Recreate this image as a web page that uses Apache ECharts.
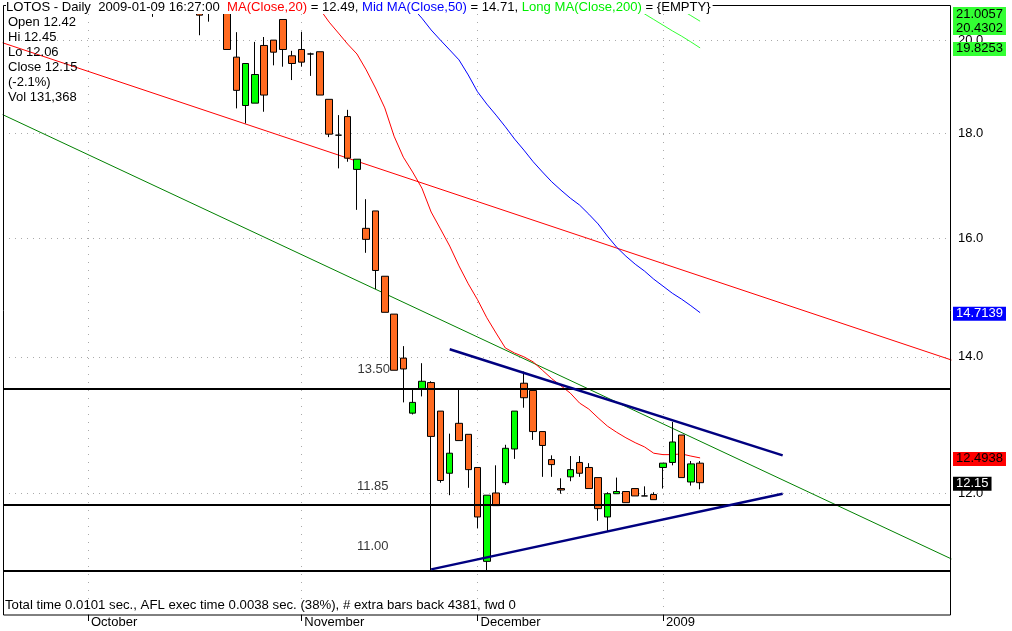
<!DOCTYPE html>
<html><head><meta charset="utf-8">
<script src="https://cdn.jsdelivr.net/npm/echarts@6/dist/echarts.min.js"></script>
<style>html,body{margin:0;padding:0;background:#fff}#c{width:1012px;height:631px}</style>
</head><body><div id="c"></div><script>
// ---------- DATA ----------
const dates = [
'2008-10-01','2008-10-02','2008-10-03','2008-10-06','2008-10-07','2008-10-08','2008-10-09','2008-10-10','2008-10-13','2008-10-14','2008-10-15','2008-10-16','2008-10-17','2008-10-20','2008-10-21','2008-10-22','2008-10-23','2008-10-24','2008-10-27','2008-10-28','2008-10-29','2008-10-30','2008-10-31',
'2008-11-03','2008-11-04','2008-11-05','2008-11-06','2008-11-07','2008-11-10','2008-11-12','2008-11-13','2008-11-14','2008-11-17','2008-11-18','2008-11-19','2008-11-20','2008-11-21','2008-11-24','2008-11-25','2008-11-26','2008-11-27','2008-11-28',
'2008-12-01','2008-12-02','2008-12-03','2008-12-04','2008-12-05','2008-12-08','2008-12-09','2008-12-10','2008-12-11','2008-12-12','2008-12-15','2008-12-16','2008-12-17','2008-12-18','2008-12-19','2008-12-22','2008-12-23','2008-12-29','2008-12-30','2008-12-31',
'2009-01-05','2009-01-06','2009-01-07','2009-01-08','2009-01-09'];
const N = null;
const openP  = [N,N,N,N,N,N,N,21.20,N,N,N,N,21.30,21.10,N,20.90,19.62,18.58,18.63,19.88,20.00,20.47,19.65,19.79,19.69,19.74,18.71,17.97,18.35,17.29,16.18,16.50,15.33,14.69,13.98,13.14,13.50,13.60,13.17,12.28,12.99,12.83,12.36,11.12,12.01,12.15,12.62,13.59,13.48,12.87,12.47,12.07,12.23,12.43,12.36,12.22,11.69,12.00,12.03,12.07,11.97,11.99,12.36,12.43,12.82,12.16,12.42];
const closeP = [N,N,N,N,N,N,N,20.90,N,N,N,N,20.57,20.85,N,19.79,18.90,19.48,19.24,18.80,19.73,19.79,19.48,19.51,19.69,18.80,17.99,17.97,17.51,17.49,15.98,15.43,14.72,13.79,13.81,13.30,13.62,12.80,12.18,12.56,12.74,12.33,11.69,11.98,11.84,12.63,13.17,13.37,12.87,12.67,12.40,12.05,12.33,12.28,12.07,11.80,12.00,12.03,11.88,11.97,11.97,11.92,12.42,12.72,12.22,12.41,12.15];
const lowP   = [N,N,N,N,N,N,N,20.53,N,N,N,N,20.11,20.42,N,19.79,18.52,18.21,18.63,18.45,19.44,19.41,19.12,19.41,19.21,18.80,17.93,17.31,17.44,16.52,15.74,15.11,14.72,13.79,13.30,13.12,13.39,11.01,12.15,11.98,12.74,12.08,11.54,10.99,11.84,12.12,12.48,13.22,12.75,12.23,12.23,12.00,12.17,12.23,12.07,11.64,11.50,12.00,11.88,11.97,11.97,11.92,12.07,12.39,12.22,12.11,12.06];
const highP  = [N,N,N,N,N,N,N,21.40,N,N,N,N,21.50,21.30,N,21.00,20.18,19.48,19.96,20.07,20.00,20.47,19.76,20.19,19.72,19.74,18.71,18.38,18.49,17.49,16.72,16.50,15.33,14.69,14.17,13.51,13.90,13.62,13.17,12.84,13.51,12.83,12.36,11.98,12.39,12.68,13.17,13.77,13.48,12.87,12.53,12.21,12.52,12.52,12.42,12.22,12.02,12.22,12.03,12.07,12.10,12.02,12.42,13.01,12.82,12.45,12.45];
const volumeLast = '131,368';
const ma20 = [N,N,N,N,N,N,N,N,N,N,N,N,N,N,N,N,N,N,N,N,N,N,N,N,N,
  20.71,20.41,20.16,19.91,19.69,19.34,18.95,18.53,17.95,17.53,17.24,16.93,16.48,16.17,15.86,15.51,15.20,14.93,14.63,14.38,14.14,14.06,14.00,13.92,13.79,13.66,13.55,13.44,13.29,13.20,13.07,12.95,12.86,12.78,12.71,12.65,12.56,12.54,12.54,12.55,12.52,12.4938];
const ma50 = [N,N,N,N,N,N,N,N,N,N,N,N,N,N,N,N,N,N,N,N,N,N,N,N,N,N,N,N,N,N,N,N,N,N,N,
  20.74,20.50,20.23,20.00,19.78,19.56,19.23,18.87,18.61,18.38,18.14,17.89,17.67,17.44,17.24,17.05,16.89,16.74,16.61,16.44,16.26,16.04,15.84,15.68,15.54,15.42,15.28,15.16,15.04,14.94,14.83,14.7139];
const greenA = {start: 59, values: [20.74,20.60,20.47,20.34,20.21,20.09,19.96,19.8253]};
const greenB = {start: 64, values: [20.69,20.56,20.4302]};
const greenC = {start: 66, values: [21.0057]};
// trend lines: [barIndex, price] end points
const redTrend   = [[-9.2, 19.94], [93.1, 13.95]];
const greenTrend = [[-9.2, 18.39], [93.1, 11.15]];
const triUpper   = [[39.0, 14.12], [74.9, 12.53]];
const triLower   = [[37.0, 11.02], [74.9, 12.00]];
const levels = [13.50, 11.85, 11.00];
const priceTicks = [12, 14, 16, 18, 20];
const monthNames = ['January','February','March','April','May','June','July','August','September','October','November','December'];

// ---------- BUILD ----------
const FONT = '"Liberation Sans", Arial, sans-serif';
const FS = 13;
const X_MIN = -9.164, X_MAX = 93.05, Y_MIN = 10.468, Y_MAX = 20.597;

const candles = [];
dates.forEach((d, i) => { if (openP[i] != null) candles.push([i, openP[i], closeP[i], lowP[i], highP[i]]); });
const toXY = arr => arr.map((v, i) => v == null ? null : [i, v]).filter(p => p);
const seg = s => s.values.map((v, j) => [s.start + j, v]);

const monthStarts = [], monthLabels = [];
dates.forEach((d, i) => {
  const m = +d.slice(5, 7);
  if (i === 0 || +dates[i - 1].slice(5, 7) !== m) {
    monthStarts.push(i);
    monthLabels.push(m === 1 ? d.slice(0, 4) : monthNames[m - 1]);
  }
});

const last = dates.length - 1;
const pct = (closeP[last] / closeP[last - 1] - 1) * 100;

const lineS = (name, data, color, width) => ({
  type: 'line', name, data, symbol: 'none', silent: true, clip: true,
  lineStyle: {color, width}, z: 3, animation: false
});

const chart = echarts.init(document.getElementById('c'), null, {renderer: 'canvas'});
const TFS = 13.1;
const option = {
  animation: false,
  backgroundColor: '#fff',
  textStyle: {fontFamily: FONT},
  title: {
    left: 6, top: 0, padding: [0, 2, 0, 0], z: 20, backgroundColor: '#fff',
    text: 'LOTOS - Daily  ' + dates[last] + ' 16:27:00  {r|MA(Close,20)} = ' + ma20[last].toFixed(2) +
          ', {b|Mid MA(Close,50)} = ' + ma50[last].toFixed(2) + ', {g|Long MA(Close,200)} = {EMPTY}',
    textStyle: {fontFamily: FONT, fontSize: TFS, fontWeight: 'normal', color: '#000', lineHeight: 14,
      rich: {
        r: {color: '#ff0000', fontFamily: FONT, fontSize: TFS, lineHeight: 14},
        b: {color: '#0000ff', fontFamily: FONT, fontSize: TFS, lineHeight: 14},
        g: {color: '#00ee00', fontFamily: FONT, fontSize: TFS, lineHeight: 14}
      }}
  },
  grid: {left: 3, right: 61, top: 14, bottom: 16, containLabel: false},
  xAxis: {
    type: 'value', min: X_MIN, max: X_MAX,
    axisLine: {show: false},
    axisTick: {show: true, customValues: monthStarts, length: 6, lineStyle: {color: '#000'}},
    axisLabel: {customValues: monthStarts, formatter: v => monthLabels[monthStarts.indexOf(v)] || '',
      align: 'left', margin: 1, padding: [0, 0, 0, 3], color: '#000', fontSize: FS, fontFamily: FONT},
    splitLine: {show: true, lineStyle: {color: '#aaaaaa', type: [1, 7], width: 1}}
  },
  yAxis: {
    type: 'log', logBase: 10, position: 'right', min: Y_MIN, max: Y_MAX,
    axisLine: {show: false},
    axisTick: {show: false, customValues: priceTicks},
    axisLabel: {customValues: priceTicks, formatter: v => (+v).toFixed(1), margin: 7, color: '#000', fontSize: FS, fontFamily: FONT},
    splitLine: {show: true, lineStyle: {color: '#aaaaaa', type: [1, 5], width: 1}}
  },
  series: [
    lineS('redTrend', redTrend, '#ff0000', 1),
    lineS('greenTrend', greenTrend, '#008000', 1),
    {
      type: 'line', name: 'levels', data: [], silent: true,
      markLine: {silent: true, symbol: 'none', animation: false, label: {show: false},
        lineStyle: {color: '#000', width: 2, type: 'solid'},
        data: levels.map(v => ({yAxis: v}))}
    },
    {
      type: 'candlestick', name: 'LOTOS', data: candles, barWidth: 7, z: 4, silent: true,
      itemStyle: {color: '#00ff00', color0: '#ff6a20', borderColor: '#000', borderColor0: '#000',
        borderColorDoji: '#000', borderWidth: 1}
    },
    lineS('MA20', toXY(ma20), '#ff0000', 1),
    lineS('MA50', toXY(ma50), '#0000ff', 1),
    lineS('greenA', seg(greenA), '#33ff33', 1),
    lineS('greenB', seg(greenB), '#33ff33', 1),
    lineS('greenC', seg(greenC), '#33ff33', 1),
    Object.assign(lineS('triUpper', triUpper, '#000080', 2.5), {z: 5}),
    Object.assign(lineS('triLower', triLower, '#000080', 2.5), {z: 5}),
    {
      type: 'scatter', name: 'levelText', symbolSize: 0, silent: true, z: 6,
      data: [
        {value: [32.56, levels[0]], label: {offset: [0, -20]}},
        {value: [32.4, levels[1]], label: {offset: [0, -18]}},
        {value: [32.4, levels[2]], label: {offset: [0, -25]}}
      ],
      label: {show: true, position: 'left', distance: 0, color: '#000', fontSize: FS, fontFamily: FONT,
        formatter: p => p.value[1].toFixed(2)}
    }
  ]
};
chart.setOption(option);

// right-side value labels, positioned through the y scale
const tags = [
  {v: greenC.values[greenC.values.length - 1], bg: '#33ff33', fg: '#000', d: 4},
  {v: greenB.values[greenB.values.length - 1], bg: '#33ff33', fg: '#000', d: 4},
  {v: greenA.values[greenA.values.length - 1], bg: '#33ff33', fg: '#000', d: 4},
  {v: ma50[last], bg: '#0000ff', fg: '#fff', d: 4},
  {v: ma20[last], bg: '#ff0000', fg: '#000', d: 4},
  {v: closeP[last], bg: '#000000', fg: '#fff', d: 2}
].sort((a, b) => b.v - a.v);
const yTop = chart.convertToPixel({yAxisIndex: 0}, Y_MAX);
let prev = -1e9;
const tagEls = tags.map(t => {
  let y = chart.convertToPixel({yAxisIndex: 0}, t.v) + 1;
  y = Math.max(y, yTop, prev + 14);
  prev = y;
  return {type: 'text', x: 953, y: y, z: 30,
    style: {text: t.v.toFixed(t.d), fill: t.fg, backgroundColor: t.bg, padding: [1, 3, 0, 3],
      font: FS + 'px ' + FONT, lineHeight: 13, verticalAlign: 'middle', align: 'left'}};
});

const info = ['Open ' + openP[last].toFixed(2), 'Hi ' + highP[last].toFixed(2), 'Lo ' + lowP[last].toFixed(2),
  'Close ' + closeP[last].toFixed(2), '(' + pct.toFixed(1) + '%)', 'Vol ' + volumeLast].join('\n');

chart.setOption({
  graphic: [
    {type: 'rect', z: 12, shape: {x: 4, y: 0, width: 946, height: 13.5}, style: {fill: '#fff'}},
    {type: 'rect', z: 15, shape: {x: 3.5, y: 5.5, width: 947, height: 609.5}, style: {fill: 'none', stroke: '#000', lineWidth: 1}},
    {type: 'text', z: 20, x: 8, y: 14.5, style: {text: info, fill: '#000', font: FS + 'px ' + FONT, lineHeight: 15, verticalAlign: 'top'}},
    {type: 'text', z: 20, x: 5, y: 605, style: {text: 'Total time 0.0101 sec., AFL exec time 0.0038 sec. (38%), # extra bars back 4381, fwd 0',
      fill: '#000', font: '13.2px ' + FONT, verticalAlign: 'middle'}}
  ].concat(tagEls)
});
</script></body></html>
